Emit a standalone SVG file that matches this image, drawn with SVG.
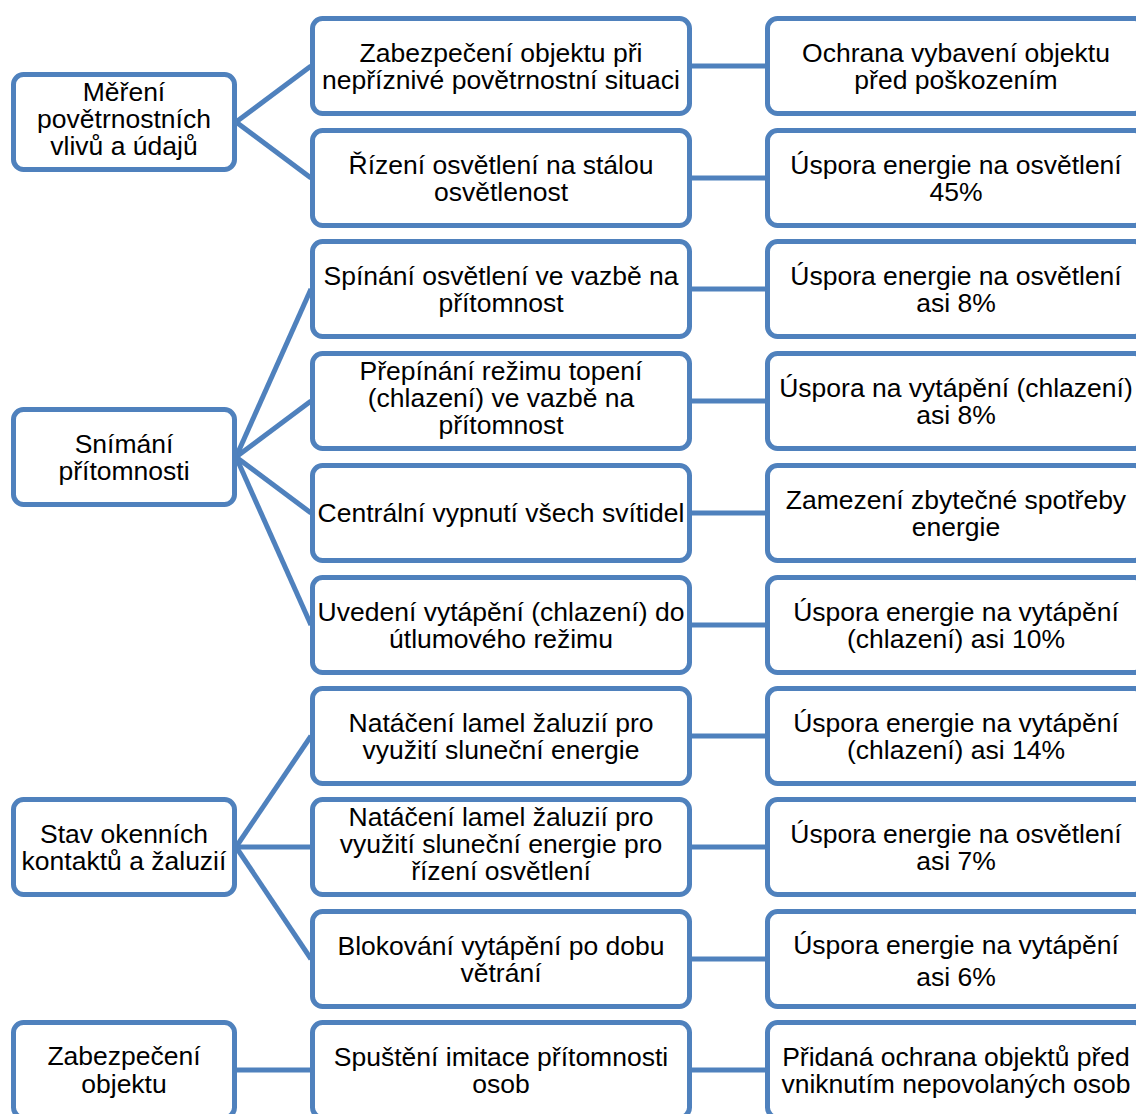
<svg xmlns="http://www.w3.org/2000/svg" width="1136" height="1114" viewBox="0 0 1136 1114">
<style>
.box{fill:#fff;stroke:#4F81BD;stroke-width:5}
.con{stroke:#4F81BD;stroke-width:5;fill:none}
.t{font-family:"Liberation Sans",Arial,sans-serif;font-size:26.5px;fill:#000;text-anchor:middle}
</style>
<rect width="1136" height="1114" fill="#fff"/>
<g id="connectors" class="con">
<line x1="236" y1="122" x2="311" y2="66"/>
<line x1="236" y1="122" x2="311" y2="178"/>
<line x1="236" y1="457" x2="311" y2="289"/>
<line x1="236" y1="457" x2="311" y2="401"/>
<line x1="236" y1="457" x2="311" y2="513"/>
<line x1="236" y1="457" x2="311" y2="625"/>
<line x1="236" y1="847" x2="311" y2="736"/>
<line x1="236" y1="847" x2="311" y2="847"/>
<line x1="236" y1="847" x2="311" y2="959"/>
<line x1="236" y1="1070" x2="311" y2="1070"/>
<line x1="691" y1="66" x2="766" y2="66"/>
<line x1="691" y1="178" x2="766" y2="178"/>
<line x1="691" y1="289" x2="766" y2="289"/>
<line x1="691" y1="401" x2="766" y2="401"/>
<line x1="691" y1="513" x2="766" y2="513"/>
<line x1="691" y1="625" x2="766" y2="625"/>
<line x1="691" y1="736" x2="766" y2="736"/>
<line x1="691" y1="847" x2="766" y2="847"/>
<line x1="691" y1="959" x2="766" y2="959"/>
<line x1="691" y1="1070" x2="766" y2="1070"/>
</g>
<g id="left1"><rect class="box" x="13.5" y="74.5" width="221" height="95" rx="10"/><text class="t" y="101"><tspan x="124">Měření</tspan><tspan x="124" dy="27">povětrnostních</tspan><tspan x="124" dy="27">vlivů a údajů</tspan></text></g>
<g id="left2"><rect class="box" x="13.5" y="409.5" width="221" height="95" rx="10"/><text class="t" y="452.5"><tspan x="124">Snímání</tspan><tspan x="124" dy="27.5">přítomnosti</tspan></text></g>
<g id="left3"><rect class="box" x="13.5" y="799.5" width="221" height="95" rx="10"/><text class="t" y="842.5"><tspan x="124">Stav okenních</tspan><tspan x="124" dy="27.5">kontaktů a žaluzií</tspan></text></g>
<g id="left4"><rect class="box" x="13.5" y="1022.5" width="221" height="95" rx="10"/><text class="t" y="1065"><tspan x="124">Zabezpečení</tspan><tspan x="124" dy="27.5">objektu</tspan></text></g>

<g id="mid1"><rect class="box" x="312.5" y="18.5" width="377" height="95" rx="10"/><text class="t" y="61.5"><tspan x="501">Zabezpečení objektu při</tspan><tspan x="501" dy="27.5">nepříznivé povětrnostní situaci</tspan></text></g>
<g id="mid2"><rect class="box" x="312.5" y="130.5" width="377" height="95" rx="10"/><text class="t" y="173.5"><tspan x="501">Řízení osvětlení na stálou</tspan><tspan x="501" dy="27.5">osvětlenost</tspan></text></g>
<g id="mid3"><rect class="box" x="312.5" y="241.5" width="377" height="95" rx="10"/><text class="t" y="284.5"><tspan x="501">Spínání osvětlení ve vazbě na</tspan><tspan x="501" dy="27.5">přítomnost</tspan></text></g>
<g id="mid4"><rect class="box" x="312.5" y="353.5" width="377" height="95" rx="10"/><text class="t" y="380"><tspan x="501">Přepínání režimu topení</tspan><tspan x="501" dy="27">(chlazení) ve vazbě na</tspan><tspan x="501" dy="27">přítomnost</tspan></text></g>
<g id="mid5"><rect class="box" x="312.5" y="465.5" width="377" height="95" rx="10"/><text class="t" x="501" y="522">Centrální vypnutí všech svítidel</text></g>
<g id="mid6"><rect class="box" x="312.5" y="577.5" width="377" height="95" rx="10"/><text class="t" y="620.5"><tspan x="501">Uvedení vytápění (chlazení) do</tspan><tspan x="501" dy="27.5">útlumového režimu</tspan></text></g>
<g id="mid7"><rect class="box" x="312.5" y="688.5" width="377" height="95" rx="10"/><text class="t" y="731.5"><tspan x="501">Natáčení lamel žaluzií pro</tspan><tspan x="501" dy="27.5">využití sluneční energie</tspan></text></g>
<g id="mid8"><rect class="box" x="312.5" y="799.5" width="377" height="95" rx="10"/><text class="t" y="826"><tspan x="501">Natáčení lamel žaluzií pro</tspan><tspan x="501" dy="27">využití sluneční energie pro</tspan><tspan x="501" dy="27">řízení osvětlení</tspan></text></g>
<g id="mid9"><rect class="box" x="312.5" y="911.5" width="377" height="95" rx="10"/><text class="t" y="954.5"><tspan x="501">Blokování vytápění po dobu</tspan><tspan x="501" dy="27.5">větrání</tspan></text></g>
<g id="mid10"><rect class="box" x="312.5" y="1022.5" width="377" height="95" rx="10"/><text class="t" y="1065.5"><tspan x="501">Spuštění imitace přítomnosti</tspan><tspan x="501" dy="27.5">osob</tspan></text></g>

<g id="right1"><rect class="box" x="767.5" y="18.5" width="377" height="95" rx="10"/><text class="t" y="61.5"><tspan x="956">Ochrana vybavení objektu</tspan><tspan x="956" dy="27.5">před poškozením</tspan></text></g>
<g id="right2"><rect class="box" x="767.5" y="130.5" width="377" height="95" rx="10"/><text class="t" y="173.5"><tspan x="956">Úspora energie na osvětlení</tspan><tspan x="956" dy="27.5">45%</tspan></text></g>
<g id="right3"><rect class="box" x="767.5" y="241.5" width="377" height="95" rx="10"/><text class="t" y="284.5"><tspan x="956">Úspora energie na osvětlení</tspan><tspan x="956" dy="27.5">asi 8%</tspan></text></g>
<g id="right4"><rect class="box" x="767.5" y="353.5" width="377" height="95" rx="10"/><text class="t" y="396.5"><tspan x="956">Úspora na vytápění (chlazení)</tspan><tspan x="956" dy="27.5">asi 8%</tspan></text></g>
<g id="right5"><rect class="box" x="767.5" y="465.5" width="377" height="95" rx="10"/><text class="t" y="508.5"><tspan x="956">Zamezení zbytečné spotřeby</tspan><tspan x="956" dy="27.5">energie</tspan></text></g>
<g id="right6"><rect class="box" x="767.5" y="577.5" width="377" height="95" rx="10"/><text class="t" y="620.5"><tspan x="956">Úspora energie na vytápění</tspan><tspan x="956" dy="27.5">(chlazení) asi 10%</tspan></text></g>
<g id="right7"><rect class="box" x="767.5" y="688.5" width="377" height="95" rx="10"/><text class="t" y="731.5"><tspan x="956">Úspora energie na vytápění</tspan><tspan x="956" dy="27.5">(chlazení) asi 14%</tspan></text></g>
<g id="right8"><rect class="box" x="767.5" y="799.5" width="377" height="95" rx="10"/><text class="t" y="842.5"><tspan x="956">Úspora energie na osvětlení</tspan><tspan x="956" dy="27.5">asi 7%</tspan></text></g>
<g id="right9"><rect class="box" x="767.5" y="911.5" width="377" height="95" rx="10"/><text class="t" y="954"><tspan x="956">Úspora energie na vytápění</tspan><tspan x="956" dy="32">asi 6%</tspan></text></g>
<g id="right10"><rect class="box" x="767.5" y="1022.5" width="377" height="95" rx="10"/><text class="t" y="1065.5"><tspan x="956">Přidaná ochrana objektů před</tspan><tspan x="956" dy="27.5">vniknutím nepovolaných osob</tspan></text></g>
</svg>
